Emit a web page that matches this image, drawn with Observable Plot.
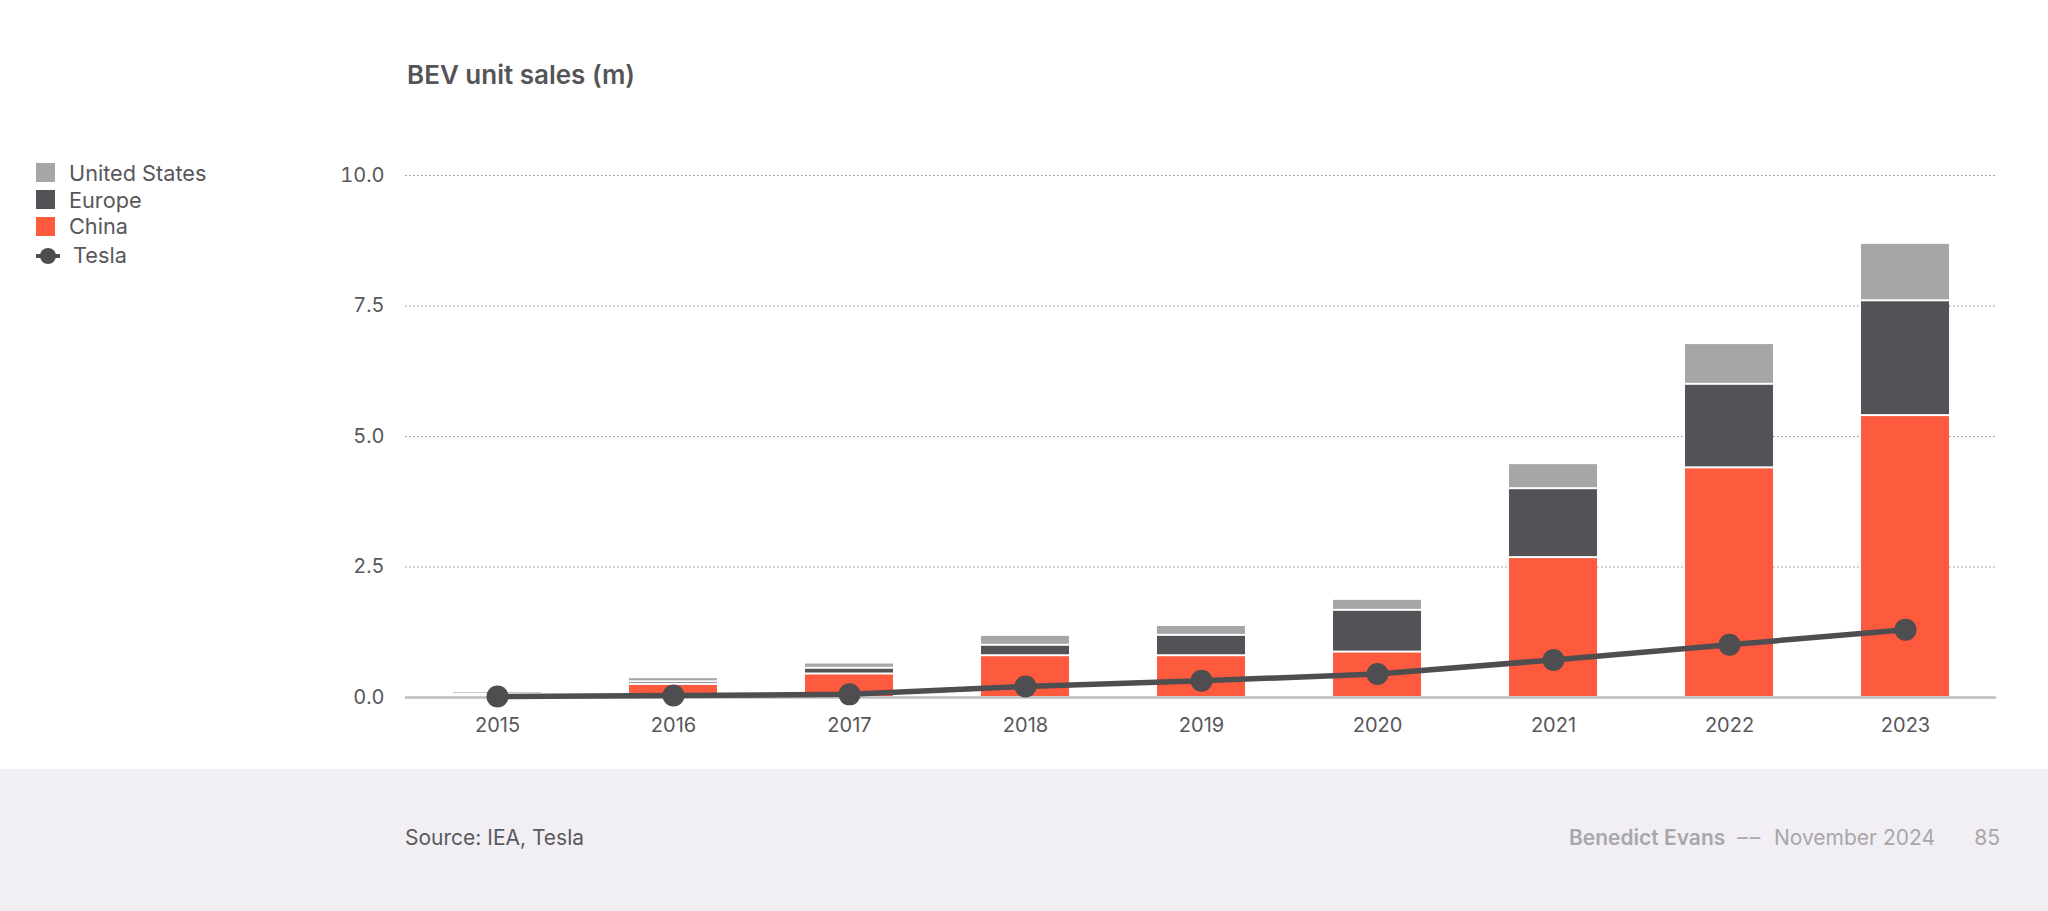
<!DOCTYPE html>
<html>
<head>
<meta charset="utf-8">
<script src="https://cdn.jsdelivr.net/npm/d3@7"></script>
<script src="https://cdn.jsdelivr.net/npm/@observablehq/plot@0.6"></script>
<style>
  html, body { margin: 0; padding: 0; background: #ffffff; }
  body { width: 2048px; height: 911px; overflow: hidden; position: relative; font-family: Inter, "Noto Sans", sans-serif; color: #58575b; }
  #chart { position: absolute; left: 0; top: 0; }
  .abs { position: absolute; white-space: nowrap; line-height: 1; }
  #title { left: 407px; top: 62px; font-size: 26px; font-weight: 600; color: #555458; }
  .lg-sq { position: absolute; left: 36px; width: 19px; height: 19px; }
  .lg-tx { font-size: 21.7px; color: #58575b; }
  #footer { position: absolute; left: 0; top: 769px; width: 2048px; height: 142px; background: #f1eff3; }
  .ft { font-size: 21px; }
</style>
</head>
<body>
<div id="chart"></div>
<div id="title" class="abs">BEV unit sales (m)</div>
<div id="legend"></div>
<div id="footer"></div>
<div class="abs ft" style="left:405px; top:827px; color:#5a595d;">Source: IEA, Tesla</div>
<div class="abs ft" style="right:113px; top:827px; color:#a9a7ab;"><span style="font-weight:600;">Benedict Evans</span>&nbsp; <span style="letter-spacing:2px;">––</span>&nbsp; November 2024</div>
<div class="abs ft" style="right:48px; top:827px; color:#a9a7ab;">85</div>
<script>
const years = ["2015","2016","2017","2018","2019","2020","2021","2022","2023"];
const regions = ["China","Europe","United States"];
const china  = [0.03, 0.25, 0.45, 0.80, 0.80, 0.87, 2.68, 4.40, 5.40];
const europe = [0.03, 0.05, 0.11, 0.20, 0.39, 0.80, 1.32, 1.60, 2.20];
const us     = [0.05, 0.08, 0.10, 0.19, 0.19, 0.21, 0.48, 0.78, 1.10];
const tesla  = [0.02, 0.04, 0.06, 0.21, 0.32, 0.45, 0.72, 1.01, 1.30];
const yTicks = [0, 2.5, 5, 7.5, 10];
const colors = {"China": "#fd5a3e", "Europe": "#545256", "United States": "#a7a5a8"};
const teslaColor = "#4e4d50";

const series = {"China": china, "Europe": europe, "United States": us};
const stackData = [];
years.forEach((yr, i) => {
  regions.forEach(r => stackData.push({year: yr, region: r, value: series[r][i]}));
});
const teslaData = years.map((yr, i) => ({year: yr, value: tesla[i]}));

const plot = Plot.plot({
  width: 2048,
  height: 769,
  marginLeft: 405,
  marginRight: 52,
  marginTop: 175,
  marginBottom: 72,
  style: {fontFamily: "Inter, 'Noto Sans', sans-serif", fontSize: "20px", color: "#58575b", background: "transparent"},
  x: {type: "band", domain: years, paddingInner: 0.5, paddingOuter: 0.25, label: null},
  y: {domain: [0, 10], label: null},
  color: {domain: regions, range: regions.map(r => colors[r])},
  marks: [
    Plot.gridY(yTicks.filter(d => d > 0), {stroke: "#8e8794", strokeOpacity: 1, strokeWidth: 1, strokeDasharray: "1.5,2.5"}),
    Plot.barY(stackData, {x: "year", y: "value", fill: "region", insetTop: 1, insetBottom: 1}),
    Plot.ruleY([0], {stroke: "#bfbdc1", strokeWidth: 2.5}),
    Plot.lineY(teslaData, {x: "year", y: "value", stroke: teslaColor, strokeWidth: 5.5}),
    Plot.dot(teslaData, {x: "year", y: "value", r: 11, fill: teslaColor}),
    Plot.axisX({tickSize: 0, tickPadding: 20, fontSize: 20}),
    Plot.axisY({ticks: yTicks, tickFormat: d3.format(".1f"), tickSize: 0, tickPadding: 21, fontSize: 20})
  ]
});
document.getElementById("chart").appendChild(plot);

// Legend
const legend = document.getElementById("legend");
const legendItems = [
  {label: "United States", color: colors["United States"], sqTop: 163, txTop: 163},
  {label: "Europe", color: colors["Europe"], sqTop: 190, txTop: 190},
  {label: "China", color: colors["China"], sqTop: 217, txTop: 216}
];
legendItems.forEach(it => {
  const sq = document.createElement("div");
  sq.className = "lg-sq";
  sq.style.top = it.sqTop + "px";
  sq.style.background = it.color;
  legend.appendChild(sq);
  const tx = document.createElement("div");
  tx.className = "abs lg-tx";
  tx.style.left = "69px";
  tx.style.top = it.txTop + "px";
  tx.textContent = it.label;
  legend.appendChild(tx);
});
const ns = "http://www.w3.org/2000/svg";
const sw = document.createElementNS(ns, "svg");
sw.setAttribute("width", 26); sw.setAttribute("height", 20);
sw.style.position = "absolute"; sw.style.left = "35px"; sw.style.top = "246px";
const ln = document.createElementNS(ns, "line");
ln.setAttribute("x1", 1); ln.setAttribute("x2", 25); ln.setAttribute("y1", 10); ln.setAttribute("y2", 10);
ln.setAttribute("stroke", teslaColor); ln.setAttribute("stroke-width", 4);
const ci = document.createElementNS(ns, "circle");
ci.setAttribute("cx", 13); ci.setAttribute("cy", 10); ci.setAttribute("r", 8); ci.setAttribute("fill", teslaColor);
sw.appendChild(ln); sw.appendChild(ci);
legend.appendChild(sw);
const tt = document.createElement("div");
tt.className = "abs lg-tx";
tt.style.left = "73px"; tt.style.top = "245px";
tt.textContent = "Tesla";
legend.appendChild(tt);
</script>
</body>
</html>
